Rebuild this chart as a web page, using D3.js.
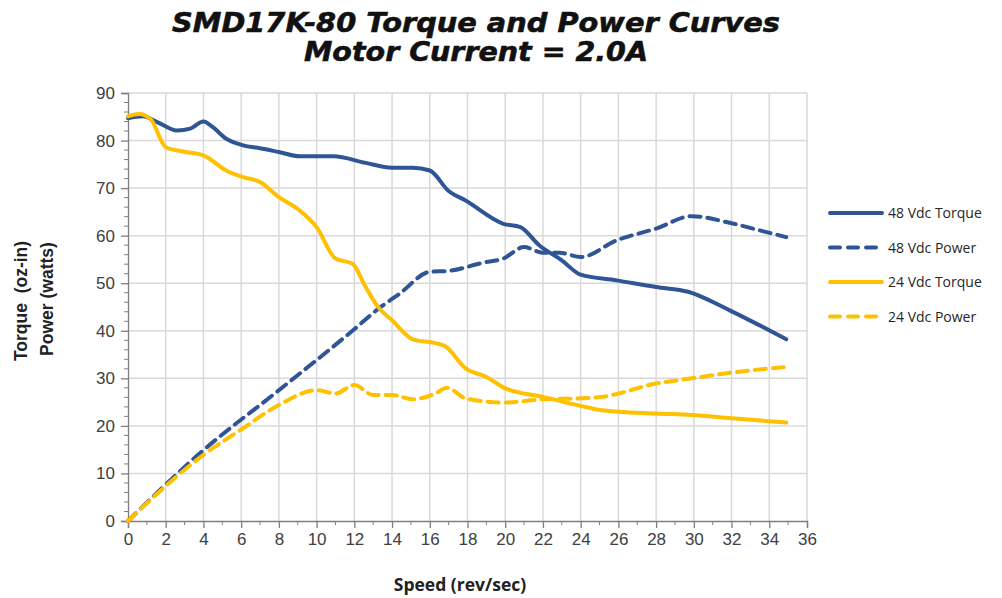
<!DOCTYPE html>
<html><head><meta charset="utf-8">
<script src="https://cdn.jsdelivr.net/npm/d3@7/dist/d3.min.js"></script>
<style>body{margin:0;background:#fff}svg{display:block}</style>
</head><body><svg id="c" width="1002" height="598"></svg>
<script>
const speed48T = [0,0.8,1.5,2.6,3.3,4.0,4.5,5.2,6.1,7,8,9.1,10.9,12.6,14.0,15.1,16.0,17.0,17.9,19.9,20.8,21.8,23.0,24.0,25.9,28.0,29.7,31.9,34.9];
const torque48 = [84.7,85.1,84,82.1,82.5,84.0,82.8,80.4,79.0,78.4,77.6,76.7,76.7,75.3,74.3,74.3,73.7,69.4,67.4,62.5,61.8,58,54.8,51.8,50.6,49.2,48.2,44.3,38.2];
const speed48P = [0,4,8,11.9,13.3,14.4,16,17,18.8,19.9,21.0,22.0,22.9,24.0,25.9,28.0,29.9,31.9,33.8,34.9];
const power48 = [0,14.9,27.5,40,44.7,47.8,52.4,52.6,54.3,55.2,57.6,56.4,56.4,55.5,59,61.5,64.1,62.7,60.8,59.7];
const speed24T = [0,0.6,1.2,2.0,2.9,4.0,5.2,6.1,7.0,8.0,9.1,10.0,11.0,11.9,12.6,13.2,14.0,15.1,16.3,16.8,17.9,19.0,20.0,22.0,24.0,25.1,28.0,29.9,32.0,34.9];
const torque24 = [85.1,85.6,84.5,78.6,77.7,76.9,73.7,72.3,71.3,68.1,65.3,61.8,55.2,54.1,49.2,45.3,42.2,38.2,37.4,36.8,32.1,30.3,27.9,26.1,24.2,23.3,22.6,22.3,21.6,20.7];
const speed24P = [0,4,6.1,8,10,11,12.0,13,14,15.1,16.3,16.9,17.9,20,22,24,25.1,28,29.9,32,34.9];
const power24 = [0,13.9,19.5,24.4,27.5,26.8,28.6,26.5,26.5,25.6,26.8,28.0,25.8,24.9,25.6,25.8,26.1,28.9,30.0,31.2,32.4];
const xTicks = d3.range(0,37,2);
const yTicks = d3.range(0,91,10);
const seriesNames = ["48 Vdc Torque","48 Vdc Power","24 Vdc Torque","24 Vdc Power"];
const titleLines = ["SMD17K-80 Torque and Power Curves","Motor Current = 2.0A"];

const BLUE="#2F5597", YEL="#FFC000";
const series = [
 {name:seriesNames[0], xs:speed48T, ys:torque48, color:BLUE, dash:null},
 {name:seriesNames[1], xs:speed48P, ys:power48, color:BLUE, dash:"11,7"},
 {name:seriesNames[2], xs:speed24T, ys:torque24, color:YEL, dash:null},
 {name:seriesNames[3], xs:speed24P, ys:power24, color:YEL, dash:"11,7"}
];

const svg = d3.select("#c");
const L=128, R=807, T=93, B=521;
const x = d3.scaleLinear().domain([0,36]).range([L,R]);
const y = d3.scaleLinear().domain([0,90]).range([B,T]);

// grid
const grid = svg.append("g").attr("stroke","#d9d9d9").attr("stroke-width",1.5);
xTicks.forEach(t=>{ if(t>0) grid.append("line").attr("x1",x(t)).attr("x2",x(t)).attr("y1",T).attr("y2",B);});
yTicks.forEach(t=>{ if(t>0) grid.append("line").attr("x1",L).attr("x2",R).attr("y1",y(t)).attr("y2",y(t));});

// axes
const xAxis = d3.axisBottom(x).tickValues(xTicks).tickSize(7).tickPadding(5);
const gx = svg.append("g").attr("transform",`translate(0,${B})`).call(xAxis);
const yAxis = d3.axisLeft(y).tickValues(yTicks).tickSize(7).tickPadding(6);
const gy = svg.append("g").attr("transform",`translate(${L},0)`).call(yAxis);
[gx,gy].forEach(g=>{
  g.select(".domain").attr("stroke","#7f7f7f").attr("stroke-width",1.3);
  g.selectAll(".tick line").attr("stroke","#7f7f7f").attr("stroke-width",1.3);
  g.selectAll(".tick text").attr("fill","#404040").style("font-family","'Liberation Sans', Arial, sans-serif").style("font-size","17px");
});
// minor ticks
const minor = svg.append("g").attr("stroke","#7f7f7f").attr("stroke-width",1);
d3.range(1,36,2).forEach(t=>minor.append("line").attr("x1",x(t)).attr("x2",x(t)).attr("y1",B).attr("y2",B+4));
d3.range(2,90,2).filter(t=>t%10!==0).forEach(t=>minor.append("line").attr("x1",L-4).attr("x2",L).attr("y1",y(t)).attr("y2",y(t)));

// series
const line = d3.line().curve(d3.curveMonotoneX);
series.forEach(s=>{
  const pts = s.xs.map((v,i)=>[x(v), y(s.ys[i])]);
  svg.append("path").attr("d",line(pts)).attr("fill","none").attr("stroke",s.color)
    .attr("stroke-width",4).attr("stroke-linecap","round")
    .attr("stroke-dasharray",s.dash);
});

// titles
const tf = "'DejaVu Sans', 'Liberation Sans', sans-serif";
const titleW = [608, 344];
svg.append("g").selectAll("text").data(titleLines).join("text")
  .attr("x",476).attr("y",(d,i)=>32+i*28.5).attr("text-anchor","middle")
  .attr("textLength",(d,i)=>titleW[i]).attr("lengthAdjust","spacingAndGlyphs")
  .style("font-family",tf).style("font-weight","bold").style("font-style","italic").style("font-size","27px")
  .attr("fill","#111").attr("stroke","#111").attr("stroke-width",0.6).text(d=>d);

// axis labels
svg.append("text").attr("x",460).attr("y",591).attr("text-anchor","middle")
  .style("font-family","'Open Sans', sans-serif").style("font-weight","bold").style("font-size","17.5px").attr("fill","#222").text("Speed (rev/sec)");
svg.append("text").attr("transform","translate(27,301) rotate(-90)").attr("text-anchor","middle")
  .style("font-family","'Liberation Sans', Arial, sans-serif").style("font-weight","bold").style("font-size","17.5px").attr("fill","#222").attr("xml:space","preserve").text("Torque  (oz-in)");
svg.append("text").attr("transform","translate(53,299) rotate(-90)").attr("text-anchor","middle")
  .style("font-family","'Liberation Sans', Arial, sans-serif").style("font-weight","bold").style("font-size","17.5px").attr("fill","#222").text("Power (watts)");

// legend
const lg = svg.append("g");
series.forEach((s,i)=>{
  const yy = 213 + i*34.5;
  lg.append("line").attr("x1",830).attr("x2",882).attr("y1",yy).attr("y2",yy)
    .attr("stroke",s.color).attr("stroke-width",4).attr("stroke-linecap","round").attr("stroke-dasharray",s.dash?"10,8":null);
  lg.append("text").attr("x",888).attr("y",yy+5).style("font-family","'Open Sans', sans-serif").style("font-size","14px").attr("fill","#262626").text(s.name);
});
</script></body></html>
